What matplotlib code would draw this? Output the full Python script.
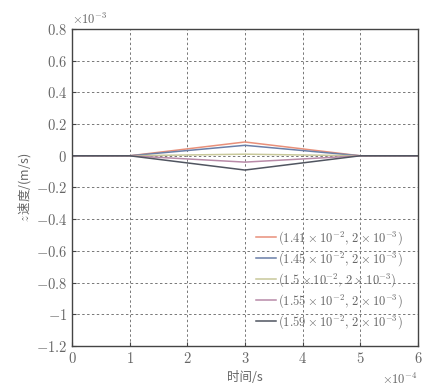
import matplotlib
matplotlib.use("Agg")
import matplotlib.pyplot as plt

plt.rcParams['font.family'] = ['DejaVu Serif', 'Noto Sans CJK SC']
plt.rcParams['mathtext.fontset'] = 'cm'

# data (x in 1e-4 s, y in 1e-3 m/s)
t = [0, 1, 3, 5, 6]
v141 = [0, 0, 0.087, 0, 0]
v145 = [0, 0, 0.066, 0, 0]
v150 = [0, 0, 0.010, 0, 0]
v155 = [0, 0, -0.040, 0, 0]
v159 = [0, 0, -0.090, 0, 0]
series = [v141, v145, v150, v155, v159]
labels = [r'$(1.41\times10^{-2},\,2\times10^{-3})$',
          r'$(1.45\times10^{-2},\,2\times10^{-3})$',
          r'$(1.5\times10^{-2},\,2\times10^{-3})$',
          r'$(1.55\times10^{-2},\,2\times10^{-3})$',
          r'$(1.59\times10^{-2},\,2\times10^{-3})$']
colors = ['#e8907a', '#6a7fa8', '#c8c89a', '#b88aa8', '#505560']
xticks = [0, 1, 2, 3, 4, 5, 6]
yticks = [-1.2, -1, -0.8, -0.6, -0.4, -0.2, 0, 0.2, 0.4, 0.6, 0.8]
ytick_labels = ['$-1.2$', '$-1$', '$-0.8$', '$-0.6$', '$-0.4$', '$-0.2$', '$0$',
                '$0.2$', '$0.4$', '$0.6$', '$0.8$']

fig = plt.figure(figsize=(4.27, 3.91), dpi=100)
ax = fig.add_axes([0.1686, 0.115, 0.810, 0.811])

for y, c, lab in zip(series, colors, labels):
    ax.plot(t, y, color=c, lw=1.1, label=lab)

ax.set_xlim(0, 6)
ax.set_ylim(-1.2, 0.8)
ax.set_xticks(xticks)
ax.set_xticklabels([f'${x}$' for x in xticks])
ax.set_yticks(yticks)
ax.set_yticklabels(ytick_labels)
ax.grid(True, linestyle=(0, (2.5, 2.5)), color='#777777', lw=0.7)
ax.tick_params(direction='in', length=3, labelsize=10.5, labelcolor='#666666', color='#444444')
for s in ax.spines.values():
    s.set_color('#444444')
    s.set_linewidth(1.0)

ax.set_xlabel('时间/s', family=['Noto Sans CJK SC', 'DejaVu Sans'], fontsize=9, color='#666666', labelpad=4)
ax.set_ylabel(r'$z\,$速度/(m/s)', family=['Noto Sans CJK SC', 'DejaVu Sans'], fontsize=9, color='#666666', labelpad=2)

ax.text(0.0, 1.005, r'$\times10^{-3}$', transform=ax.transAxes, fontsize=9, color='#666666', va='bottom', ha='left')
ax.text(1.0, -0.105, r'$\times10^{-4}$', transform=ax.transAxes, fontsize=9, color='#666666', va='center', ha='right')

leg = ax.legend(loc='lower right', frameon=False, fontsize=9, handlelength=1.6,
                handletextpad=0.2, labelspacing=0.25, borderaxespad=0.8)
for txt in leg.get_texts():
    txt.set_color('#666666')

fig.savefig('out.png', dpi=100)
